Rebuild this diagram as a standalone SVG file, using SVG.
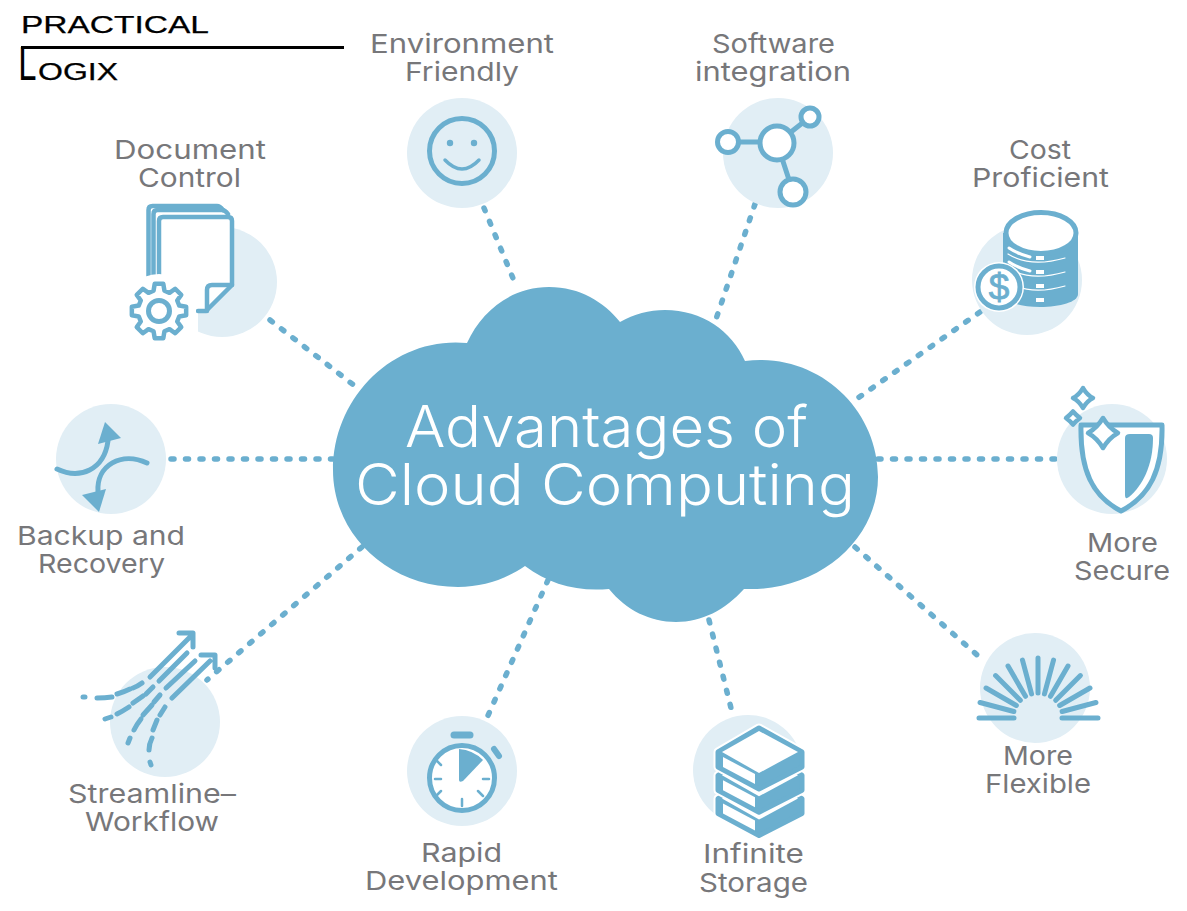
<svg xmlns="http://www.w3.org/2000/svg" width="1187" height="911" viewBox="0 0 1187 911">
<style>
.lb{font-family:"Inter","Liberation Sans",sans-serif;font-size:26px;fill:#77777a;font-weight:400}
.ti{font-family:"Inter","Liberation Sans",sans-serif;font-size:57px;fill:#fff;font-weight:300}
.lg{font-family:"Liberation Sans",sans-serif;font-size:23px;fill:#000;stroke:#000;stroke-width:.25}
.bg{fill:#e1eef5}
.s{fill:none;stroke:#6bafcf;stroke-width:5;stroke-linecap:round;stroke-linejoin:round}
.w{fill:#fff;stroke:#6bafcf;stroke-width:5;stroke-linecap:round;stroke-linejoin:round}
.f{fill:#6bafcf}
.d{fill:none;stroke:#6bafcf;stroke-width:5.5;stroke-linecap:round;stroke-dasharray:3 11.5}
.t{fill:none;stroke:#6bafcf;stroke-width:2.5;stroke-linecap:round}
.wl{fill:none;stroke:#fff;stroke-width:1.2;stroke-linecap:round}
.wd{fill:#fff}
.st{fill:none;stroke:#6bafcf;stroke-width:4.5;stroke-linecap:round;stroke-linejoin:round}
</style>
<defs>
<line id="ray" x1="1038" y1="693" x2="1038" y2="658" class="s"/>
<g id="book">
<path d="M718,752 L759,728 L802,752 V767 L759,789 L718,767 Z" fill="#6bafcf" stroke="#fff" stroke-width="9" stroke-linejoin="round"/>
<path d="M718,752 L759,728 L802,752 V767 L759,789 L718,767 Z" fill="#6bafcf" stroke="#6bafcf" stroke-width="5" stroke-linejoin="round"/>
<path d="M723,757 L755,774 V784 L723,767 Z" fill="#fff"/>
<path d="M722,752 L759,731 L798,752 L759,773 Z" fill="#fff"/>
</g>
</defs>
<g id="connectors">
<path class="d" d="M484,208 L517,288"/>
<path class="d" d="M755,204 L714,325"/>
<path class="d" d="M270,320 L360,390"/>
<path class="d" d="M980,312 L858,398"/>
<path class="d" d="M171,459 L333,459"/>
<path class="d" d="M1055,459 L877,459"/>
<path class="d" d="M362,547 L207,680"/>
<path class="d" d="M548,580 L486,720"/>
<path class="d" d="M709,620 L733,716"/>
<path class="d" d="M855,547 L985,662"/>
</g>
<g id="logo">
<text class="lg" x="21" y="33" textLength="188" lengthAdjust="spacingAndGlyphs">PRACTICAL</text>
<path d="M21,47.5 H344" stroke="#000" stroke-width="3" fill="none"/>
<text class="lg" y="80"><tspan x="18" font-family="Inter,'Liberation Sans',sans-serif" font-size="45" stroke="none" textLength="19" lengthAdjust="spacingAndGlyphs">L</tspan><tspan x="38" textLength="80" lengthAdjust="spacingAndGlyphs">OGIX</tspan></text>
</g>
<g id="cloud">
<path class="f" d="M467,343 C482,310 512,287 549,287 C580,287 604,302 620,322 C634,314 649,310 665,310 C702,310 732,331 745,361 C817,352 878,408 878,477 C878,540 818,592 744,589 C725,610 702,622 676,622 C650,622 626,610 609,589 C577,592 549,584 525,566 C506,579 484,587 458,587 C389,587 333,535 333,470 C333,397 394,336 467,343 Z"/>
<text class="ti"><tspan x="405" y="447" textLength="403" lengthAdjust="spacingAndGlyphs">Advantages of</tspan><tspan x="355" y="505" textLength="500" lengthAdjust="spacingAndGlyphs">Cloud Computing</tspan></text>
</g>
<g id="environment">
<circle class="bg" cx="462" cy="153" r="55"/>
<circle class="s" cx="462" cy="151" r="32.5"/>
<circle class="f" cx="450" cy="143" r="3.2"/><circle class="f" cx="474" cy="143" r="3.2"/>
<path class="s" style="stroke-width:3.5" d="M445,160 Q462,178 479,160"/>
<text class="lb" x="370" y="53" textLength="184" lengthAdjust="spacingAndGlyphs">Environment</text>
<text class="lb" x="405" y="81" textLength="114" lengthAdjust="spacingAndGlyphs">Friendly</text>
</g>
<g id="software">
<circle class="bg" cx="778" cy="153" r="55"/>
<path class="s" d="M728,142 H777 M777,143 L810,117 M777,143 L793,192"/>
<circle class="w" cx="777" cy="143" r="17"/>
<circle class="w" cx="728" cy="142" r="10.5"/>
<circle class="w" cx="810" cy="117" r="9"/>
<circle class="w" cx="793" cy="192" r="13"/>
<text class="lb" x="712" y="53" textLength="123" lengthAdjust="spacingAndGlyphs">Software</text>
<text class="lb" x="695" y="81" textLength="156" lengthAdjust="spacingAndGlyphs">integration</text>
</g>
<g id="document">
<circle class="bg" cx="222" cy="282" r="55"/>
<path class="st" d="M148.5,276 V210 Q148.5,206 152.5,206 H217 Q220,206 223,210"/>
<path class="st" d="M153.5,276 V214 Q153.5,210 157.5,210 H222 Q225,210 228,214"/>
<path d="M159,280 V221 Q159,217 163,217 H228 Q232,217 232,221 V285 L206,311 H198 V340 H159 Z" fill="#fff"/>
<path class="st" d="M159,276 V221 Q159,217 163,217 H228 Q232,217 232,221 V285 L206,311 H198"/>
<path class="st" d="M232,285 H212 Q207,285 207,290 V311"/>
<circle cx="159" cy="311" r="37" fill="#fff"/>
<path class="w" style="stroke-width:4.5" transform="translate(159,311)" d="M-5.44,-20.28 L-4.3,-27.16 L4.3,-27.16 L5.44,-20.28 L10.5,-18.19 L16.16,-22.25 L22.25,-16.16 L18.19,-10.5 L20.28,-5.44 L27.16,-4.3 L27.16,4.3 L20.28,5.44 L18.19,10.5 L22.25,16.16 L16.16,22.25 L10.5,18.19 L5.44,20.28 L4.3,27.16 L-4.3,27.16 L-5.44,20.28 L-10.5,18.19 L-16.16,22.25 L-22.25,16.16 L-18.19,10.5 L-20.28,5.44 L-27.16,4.3 L-27.16,-4.3 L-20.28,-5.44 L-18.19,-10.5 L-22.25,-16.16 L-16.16,-22.25 L-10.5,-18.19 Z"/>
<circle class="s" cx="159" cy="311" r="10.5"/>
<text class="lb" x="114" y="159" textLength="152" lengthAdjust="spacingAndGlyphs">Document</text>
<text class="lb" x="138" y="187" textLength="103" lengthAdjust="spacingAndGlyphs">Control</text>
</g>
<g id="cost">
<circle class="bg" cx="1027" cy="280" r="55"/>
<path class="f" d="M1003,233 H1078 V294 C1078,302 1060,307 1040,307 C1020,307 1003,302 1003,294 Z"/>
<ellipse class="w" cx="1041" cy="233" rx="35" ry="20.5"/>
<path class="wl" d="M1008,254 Q1030,268 1065,258 M1008,268 Q1030,282 1065,272 M1008,282 Q1030,296 1065,286"/>
<path class="wl" style="stroke-width:3" d="M1009,248 Q1018,254 1030,257 M1009,262 Q1018,268 1030,271"/>
<rect class="wd" x="1036" y="256" width="8" height="4"/><rect class="wd" x="1036" y="270" width="8" height="4"/><rect class="wd" x="1036" y="284" width="8" height="4"/><rect class="wd" x="1036" y="298" width="8" height="4"/>
<circle cx="999" cy="287" r="25" fill="#fff"/>
<circle class="w" cx="999" cy="287" r="21"/>
<text x="999" y="300" text-anchor="middle" font-family="'Liberation Sans',sans-serif" font-size="37" fill="#6bafcf" stroke="#6bafcf" stroke-width=".8">$</text>
<text class="lb" x="1009" y="159" textLength="62" lengthAdjust="spacingAndGlyphs">Cost</text>
<text class="lb" x="972" y="187" textLength="137" lengthAdjust="spacingAndGlyphs">Proficient</text>
</g>
<g id="backup">
<circle class="bg" cx="111" cy="459" r="55"/>
<path class="s" d="M57,469 C80,480 104,470 108,441"/>
<path class="f" d="M105,422 L121,438 L98,444 Z"/>
<path class="s" d="M147,463 C122,451 96,465 98,492"/>
<path class="f" d="M82,495 L106,489 L99,512 Z"/>
<text class="lb" x="17" y="545" textLength="168" lengthAdjust="spacingAndGlyphs">Backup and</text>
<text class="lb" x="38" y="573" textLength="127" lengthAdjust="spacingAndGlyphs">Recovery</text>
</g>
<g id="secure">
<circle class="bg" cx="1112" cy="459" r="55"/>
<path class="w" d="M1081,425 H1162 C1163,470 1150,496 1121,511 C1092,496 1080,470 1081,425 Z"/>
<path class="f" d="M1125,438 Q1125,434 1130,434 H1149 Q1153,434 1153,438 C1153,465 1143,485 1129,497 Q1125,500 1125,495 Z"/>
<path class="w" style="stroke-width:4.5" d="M1103,418 Q1109,428 1118,433 Q1109,438 1103,448 Q1097,438 1088,433 Q1097,428 1103,418 Z"/>
<path class="w" style="stroke-width:4.5" d="M1083,388 Q1087,395 1093,398 Q1087,401 1083,408 Q1079,401 1073,398 Q1079,395 1083,388 Z"/>
<path class="w" style="stroke-width:4.5" d="M1073,411.500 Q1076,415 1080,418 Q1076,421 1073,424.500 Q1070,421 1066,418 Q1070,415 1073,411.500 Z"/>
<text class="lb" x="1087" y="552" textLength="71" lengthAdjust="spacingAndGlyphs">More</text>
<text class="lb" x="1074" y="580" textLength="96" lengthAdjust="spacingAndGlyphs">Secure</text>
</g>
<g id="streamline">
<circle class="bg" cx="165" cy="722" r="55"/>
<g style="stroke-width:5">
<path class="s" d="M83,697 H85 M97,698 Q105,698 112,697 M117,694 Q124,692 130,689 M133,688 Q138,686 142,683"/>
<path class="s" d="M150,677 L191,636 M179,633 H193 V647"/>
<path class="s" d="M105,719 L111,717 M117,714 Q123,711 129,707 M133,703 L143,696 M146,694 L153,687 M159,681 L187,653"/>
<path class="s" d="M128,743 L130,738 M134,730 Q137,724 141,719 M143,715 L152,705 M154,702 L160,695 M166,688 L195,661"/>
<path class="s" d="M151,765 L150,762 M149,750 Q149,744 152,738 M153,730 Q155,725 157,720 M160,715 L165,707 M172,698 L210,661 M201,655 H215 V668"/>
</g>
<text class="lb" x="68" y="803" textLength="168" lengthAdjust="spacingAndGlyphs">Streamline–</text>
<text class="lb" x="85" y="831" textLength="134" lengthAdjust="spacingAndGlyphs">Workflow</text>
</g>
<g id="rapid">
<circle class="bg" cx="462" cy="771" r="55"/>
<circle class="w" cx="462" cy="778" r="32.5"/>
<path class="f" d="M459,780 V749 Q473,750 483,760 L463,781 Q459,783 459,780 Z"/>
<path class="s" style="stroke-width:7" d="M454,735 H470"/>
<path class="s" style="stroke-width:6" d="M494,749 L499,756"/>
<path class="t" d="M436,760 L441,765 M483,796 L478,791 M462,799 V806 M441,791 L436,796 M435,779 H441 M483,779 H489"/>
<text class="lb" x="421" y="862" textLength="81" lengthAdjust="spacingAndGlyphs">Rapid</text>
<text class="lb" x="365" y="890" textLength="193" lengthAdjust="spacingAndGlyphs">Development</text>
</g>
<g id="storage">
<circle class="bg" cx="748" cy="770" r="55"/>
<use href="#book" y="46.600"/>
<use href="#book" y="23.300"/>
<use href="#book"/>
<text class="lb" x="703" y="863" textLength="101" lengthAdjust="spacingAndGlyphs">Infinite</text>
<text class="lb" x="699" y="892" textLength="109" lengthAdjust="spacingAndGlyphs">Storage</text>
</g>
<g id="flexible">
<circle class="bg" cx="1035" cy="688" r="55"/>
<use href="#ray"/>
<use href="#ray" transform="rotate(15 1038 718)"/><use href="#ray" transform="rotate(30 1038 718)"/><use href="#ray" transform="rotate(45 1038 718)"/><use href="#ray" transform="rotate(60 1038 718)"/><use href="#ray" transform="rotate(75 1038 718)"/>
<use href="#ray" transform="rotate(-15 1038 718)"/><use href="#ray" transform="rotate(-30 1038 718)"/><use href="#ray" transform="rotate(-45 1038 718)"/><use href="#ray" transform="rotate(-60 1038 718)"/><use href="#ray" transform="rotate(-75 1038 718)"/>
<path class="s" d="M979,718 H1014 M1062,718 H1098"/>
<text class="lb" x="1003" y="765" textLength="70" lengthAdjust="spacingAndGlyphs">More</text>
<text class="lb" x="985" y="793" textLength="106" lengthAdjust="spacingAndGlyphs">Flexible</text>
</g>
</svg>
